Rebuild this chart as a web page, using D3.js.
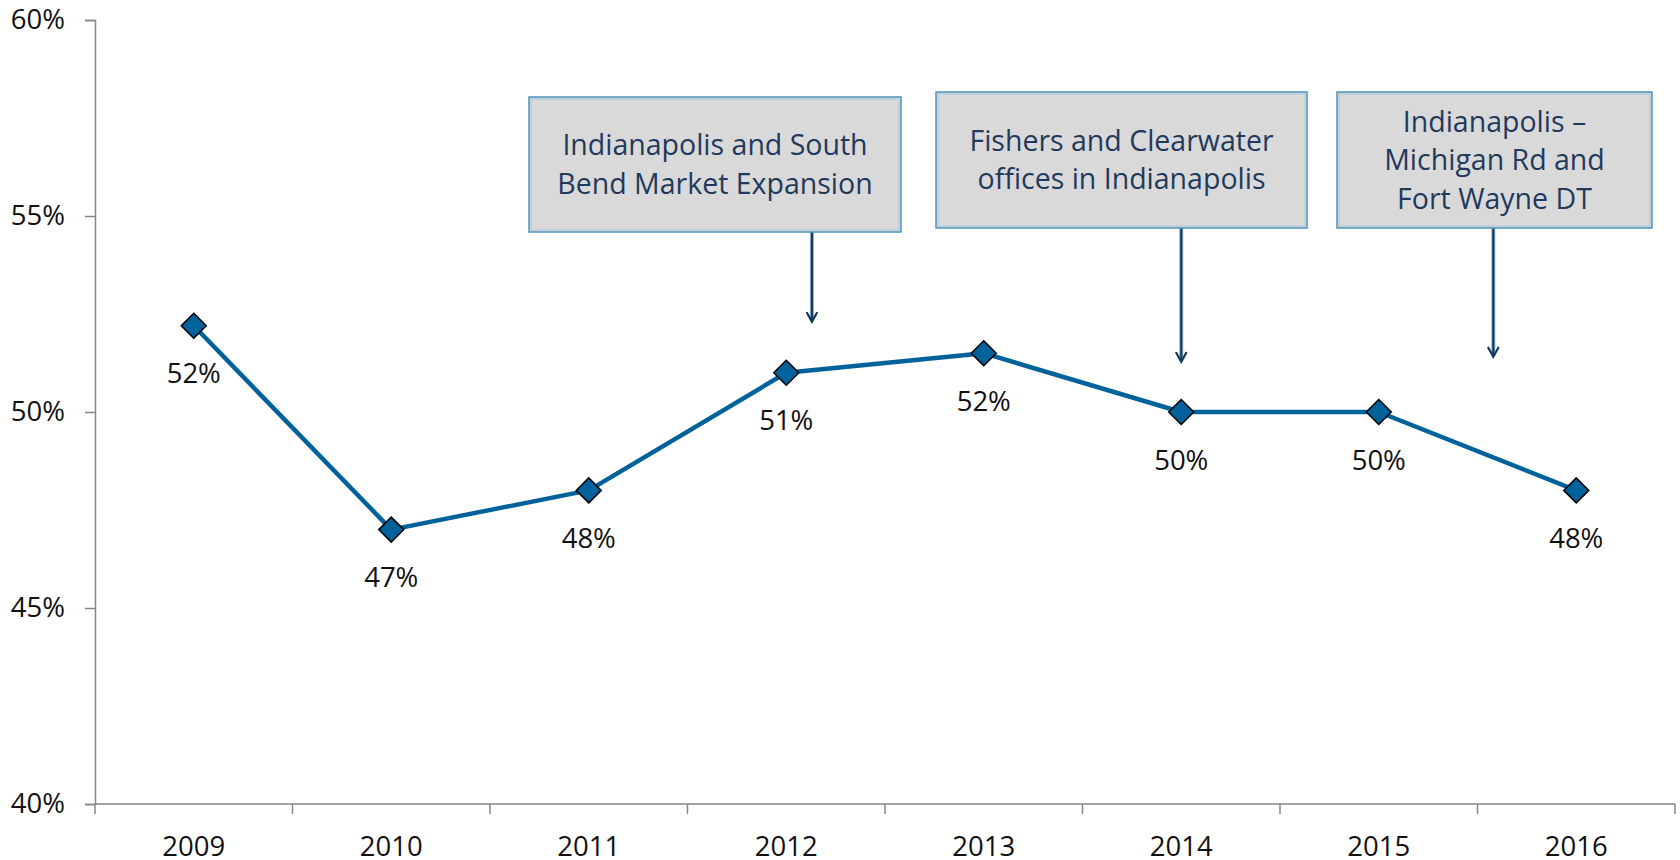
<!DOCTYPE html>
<html>
<head>
<meta charset="utf-8">
<script src="https://cdn.jsdelivr.net/npm/d3@7"></script>
<style>
  html, body { margin: 0; padding: 0; background: #fff; }
  svg { display: block; font-family: "Open Sans", sans-serif; }
</style>
</head>
<body>
<svg id="chart" width="1680" height="860"></svg>
<script>
// data
let years = ["2009", "2010", "2011", "2012", "2013", "2014", "2015", "2016"];
let shares = [52.2, 47.0, 48.0, 51.0, 51.5, 50.0, 50.0, 48.0];
let yTicks = [40, 45, 50, 55, 60];

// annotation callouts: text lines and where the arrow points (category index, value)
let noteLines = [
    ["Indianapolis and South", "Bend Market Expansion"],
    ["Fishers and Clearwater", "offices in Indianapolis"],
    ["Indianapolis \u2013", "Michigan Rd and", "Fort Wayne DT"]
];
let noteTargetIndex = [3.13, 5.0, 6.58];
let noteTargetValue = [52.3, 51.28, 51.41];

let svg = d3.select("#chart");
let margin = {left: 95, right: 5, top: 20, bottom: 56};
let width = 1680 - margin.left - margin.right;
let height = 860 - margin.top - margin.bottom;
let labelSize = 27.5;

let x = d3.scaleBand().domain(years).range([0, width]);
let xi = d3.scaleLinear().domain([-0.5, years.length - 0.5]).range([0, width]);
let y = d3.scaleLinear().domain([40, 60]).range([height, 0]);

let g = svg.append("g").attr("transform", `translate(${margin.left}, ${margin.top})`);

// y axis
let yAxis = g.append("g").call(d3.axisLeft(y).tickValues(yTicks).tickFormat(d => d + "%").tickSizeOuter(0).tickSize(10).tickPadding(20));
yAxis.select(".domain").attr("stroke", "#868686").attr("stroke-width", 1.5);
yAxis.selectAll(".tick line").attr("stroke", "#868686").attr("stroke-width", 1.5);
yAxis.selectAll(".tick text").attr("font-size", labelSize).attr("fill", "#111").attr("font-family", "Open Sans, sans-serif");

// x axis: ticks between categories
let xAxisG = g.append("g").attr("transform", `translate(0, ${height})`);
xAxisG.append("line")
    .attr("x1", 0).attr("x2", width)
    .attr("stroke", "#868686").attr("stroke-width", 1.5);
xAxisG.selectAll("line.tk").data(d3.range(years.length + 1)).enter().append("line")
    .attr("class", "tk")
    .attr("x1", i => xi(i - 0.5)).attr("x2", i => xi(i - 0.5))
    .attr("y1", 0).attr("y2", 10)
    .attr("stroke", "#868686").attr("stroke-width", 1.5);
xAxisG.selectAll("text").data(years).enter().append("text")
    .attr("x", d => x(d) + x.bandwidth() / 2)
    .attr("y", 41)
    .attr("text-anchor", "middle")
    .attr("dominant-baseline", "central")
    .attr("font-size", labelSize)
    .attr("fill", "#111")
    .text(d => d);

// line
let line = d3.line()
    .x((d, i) => x(years[i]) + x.bandwidth() / 2)
    .y(d => y(d));
g.append("path")
    .datum(shares)
    .attr("d", line)
    .attr("fill", "none")
    .attr("stroke", "#00629b")
    .attr("stroke-width", 4.5)
    .attr("stroke-linejoin", "round");

// diamond markers
let r = 12.5;
g.selectAll("path.marker").data(shares).enter().append("path")
    .attr("class", "marker")
    .attr("transform", (d, i) => `translate(${x(years[i]) + x.bandwidth() / 2}, ${y(d)})`)
    .attr("d", `M0,${-r}L${r},0L0,${r}L${-r},0Z`)
    .attr("fill", "#00629b")
    .attr("stroke", "#000")
    .attr("stroke-width", 1.5);

// value labels
g.selectAll("text.val").data(shares).enter().append("text")
    .attr("class", "val")
    .attr("x", (d, i) => x(years[i]) + x.bandwidth() / 2)
    .attr("y", d => y(d) + 47)
    .attr("text-anchor", "middle")
    .attr("dominant-baseline", "central")
    .attr("font-size", labelSize)
    .attr("fill", "#111")
    .text(d => Math.round(d) + "%");

// callout boxes (page pixel layout)
let boxes = [
    {x0: 529, x1: 901, y0: 97, y1: 232},
    {x0: 936, x1: 1307, y0: 92, y1: 228},
    {x0: 1337, x1: 1652, y0: 92, y1: 228}
];
let notes = svg.append("g");
noteLines.forEach((lines, k) => {
    let b = boxes[k];
    let ax = margin.left + xi(noteTargetIndex[k]);
    let ay = margin.top + y(noteTargetValue[k]);
    // arrow
    notes.append("line")
        .attr("x1", ax).attr("x2", ax).attr("y1", b.y1).attr("y2", ay - 1)
        .attr("stroke", "#7fb0cc").attr("stroke-width", 4);
    notes.append("line")
        .attr("x1", ax).attr("x2", ax).attr("y1", b.y1).attr("y2", ay - 1)
        .attr("stroke", "#17365a").attr("stroke-width", 2);
    notes.append("path")
        .attr("d", `M${ax - 5},${ay - 9}L${ax},${ay}L${ax + 5},${ay - 9}`)
        .attr("fill", "none")
        .attr("stroke", "#17365a")
        .attr("stroke-width", 2.2)
        .attr("stroke-linecap", "round");
    // box
    notes.append("rect")
        .attr("x", b.x0).attr("y", b.y0)
        .attr("width", b.x1 - b.x0).attr("height", b.y1 - b.y0)
        .attr("fill", "#d9d9d9")
        .attr("stroke", "#4f93ba")
        .attr("stroke-width", 1.5);
    notes.append("rect")
        .attr("x", b.x0 + 2).attr("y", b.y0 + 2)
        .attr("width", b.x1 - b.x0 - 4).attr("height", b.y1 - b.y0 - 4)
        .attr("fill", "none")
        .attr("stroke", "#a9cadd")
        .attr("stroke-width", 1);
    let lh = 38.5;
    let cy = (b.y0 + b.y1) / 2 - 1;
    notes.selectAll(null).data(lines).enter().append("text")
        .attr("x", (b.x0 + b.x1) / 2)
        .attr("y", (d, i) => cy + (i - (lines.length - 1) / 2) * lh)
        .attr("text-anchor", "middle")
        .attr("dominant-baseline", "central")
        .attr("font-size", 28.5)
        .attr("fill", "#1f3a5c")
        .text(d => d);
});
</script>
</body>
</html>
